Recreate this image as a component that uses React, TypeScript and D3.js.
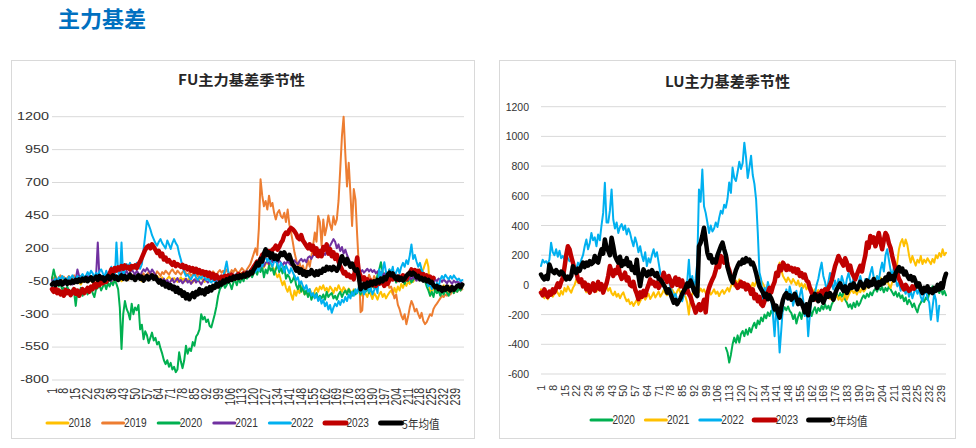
import React from 'react';
import * as d3 from 'd3';

// ---------------- FU data (index 1..) ----------------
const FU_X_TICKS = [1, 8, 15, 22, 29, 36, 43, 50, 57, 64, 71, 78, 85, 92, 99, 106, 113, 120, 127, 134, 141, 148, 155, 162, 169, 176, 183, 190, 197, 204, 211, 218, 225, 232, 239];
const FU_Y_TICKS = [1200, 950, 700, 450, 200, -50, -300, -550, -800];

const FU_2018 = [
  -40,-55,-30,-60,-45,-70,-50,-35,-60,-80,-55,-40,-65,-50,-30,-45,-60,-75,-50,-40,
  -55,-35,-20,-45,-60,-40,-25,-50,-65,-45,-30,-55,-40,-20,-35,-50,-60,-40,-25,-45,
  -30,-50,-40,-20,-10,-35,-25,-5,-20,-40,-30,-15,-35,-50,-30,-10,-25,-40,-20,-5,
  -15,-30,-10,-25,-40,-20,-35,-50,-30,-15,-30,-45,-25,-40,-55,-35,-20,-40,-30,-50,
  -40,-25,-45,-60,-40,-30,-50,-35,-20,-40,-55,-35,-25,-45,-30,-15,-35,-20,-40,-25,
  -10,-30,-20,-5,-25,-15,0,-20,-10,5,-15,0,15,-5,10,25,5,20,35,15,
  30,50,40,60,75,55,80,95,70,85,60,40,10,-20,5,-40,-80,-50,-100,-130,
  -90,-150,-190,-120,-160,-110,-140,-90,-120,-150,-130,-160,-110,-140,-170,-120,-100,-130,-90,-110,
  -80,-120,-100,-130,-90,-110,-140,-100,-120,-80,-110,-130,-95,-115,-140,-105,-125,-150,-110,-130,
  -140,-115,-135,-160,-125,-145,-170,-130,-150,-185,-140,-160,-190,-150,-130,-170,-145,-180,-155,-135,
  -120,-150,-100,-135,-90,-120,-70,-100,-60,-85,-50,-70,-30,-55,-20,-40,-10,-35,15,40,
  80,115,60,-160,-120,-100,-130,-110,-90,-125,-105,-80,-115,-130,-100,-85,-120,-105,-90,-110,
  -100,-85,-95,
];
const FU_2019 = [
  -20,-35,-10,-40,-25,-5,-30,-15,-45,-25,-10,-35,-20,-5,-30,-45,-20,-10,-35,-25,
  -15,-40,-25,-10,-30,-50,-35,-20,-5,-30,-15,-40,-25,-10,-35,-20,-5,-30,-45,-25,
  -10,-30,-20,-5,-25,-40,-20,0,-15,-30,-10,5,-20,-5,10,-15,-5,20,5,-10,
  15,-5,25,10,-10,20,5,30,15,0,25,40,20,5,30,15,0,20,35,10,
  0,15,-10,5,20,0,-15,10,-5,15,30,5,-10,15,0,25,10,-5,20,35,
  15,30,10,40,20,5,35,20,45,25,10,30,50,35,15,40,60,80,120,160,
  200,150,350,725,600,520,560,495,600,520,545,470,420,470,490,445,430,470,400,495,
  380,320,250,170,115,60,90,40,70,20,50,110,60,140,220,320,250,445,400,220,
  420,300,360,450,380,340,443,380,420,560,800,1050,1200,920,670,850,620,370,650,570,
  300,60,-285,-270,-60,-20,-45,0,-30,-60,-10,-40,-70,-30,0,-20,-50,-80,-60,-100,
  -90,-130,-180,-150,-230,-262,-310,-340,-300,-376,-320,-250,-200,-230,-280,-260,-300,-330,-290,-350,
  -376,-360,-330,-300,-313,-260,-237,-220,-200,-180,-160,-170,-150,-160,-135,-150,-125,-140,-115,-130,
  -105,-120,-110,
];
const FU_2020 = [
  -30,40,-20,-60,-90,-70,-110,-100,-130,-90,-120,-150,-110,-130,-237,-120,-140,-100,-160,-130,
  -110,-150,-120,-90,-140,-170,-110,-100,-80,-120,-90,-70,-110,-60,-90,-50,-80,-40,-70,-110,
  -250,-565,-300,-200,-260,-290,-340,-220,-300,-250,-270,-230,-415,-380,-490,-430,-460,-520,-480,-440,
  -500,-480,-530,-510,-560,-600,-650,-680,-650,-700,-670,-720,-700,-740,-720,-590,-660,-710,-650,-540,
  -600,-560,-580,-512,-540,-470,-450,-415,-300,-340,-320,-360,-340,-390,-400,-350,-300,-240,-160,-110,
  -90,-60,-100,-80,-50,-70,-110,-60,-40,-80,-30,-60,-20,-50,0,-30,-10,20,-20,10,
  30,0,50,20,60,-20,40,10,70,30,50,0,40,80,20,50,10,60,-30,0,
  -20,-60,-40,-10,-80,-110,-60,-130,-90,-150,-120,-170,-130,-190,-150,-170,-140,-190,-160,-180,
  -150,-190,-130,-170,-150,-140,-180,-160,-190,-150,-130,-170,-140,-120,-150,-110,-140,-160,-120,-150,
  -130,-110,-150,-120,-90,-130,-100,-140,-110,-80,-100,-60,0,40,95,20,-30,10,-20,40,
  -10,-40,-20,-60,-30,-50,-10,-40,-70,-30,-50,-20,-60,-40,-10,-30,20,40,10,-20,
  -50,-90,-120,-160,-130,-170,-110,-140,-120,-160,-130,-150,-110,-140,-160,-120,-100,-140,-110,-130,
  -100,-120,-90,
];
const FU_2021 = [
  -40,-60,-35,-70,-50,-30,-60,-80,-45,-65,-40,-55,-75,-50,-35,40,-10,-30,-20,-40,
  -25,-10,-35,-20,-40,-15,-10,245,-30,-10,-40,-25,-45,-15,-30,-50,-20,-35,-10,-25,
  0,20,-10,10,30,-5,15,40,20,0,30,10,-10,20,40,25,50,30,10,40,
  20,0,-20,-40,-30,-50,-30,-60,-40,-70,-50,-30,-60,-45,-25,-55,-40,-65,-50,-30,
  -60,-45,-70,-50,-35,-60,-40,-55,-75,-50,-30,-45,-60,-40,-20,-45,-30,-50,-35,-15,
  -40,-25,-10,-35,-20,-5,-30,-15,0,-20,-10,-25,0,-15,10,-5,15,30,10,25,
  40,55,35,60,80,65,90,100,80,110,95,120,100,85,110,90,70,95,80,105,
  85,70,95,110,90,80,105,120,100,115,95,130,140,120,145,160,135,150,170,150,
  165,150,175,200,220,245,270,250,200,230,180,210,160,190,150,120,90,70,50,40,
  30,40,20,35,15,30,45,25,40,20,35,10,25,5,20,-5,10,-10,5,-15,
  0,-10,-25,-5,-20,-35,-15,-30,-10,-25,-40,-20,-35,-15,-30,-45,-25,-10,-35,-20,
  -40,-30,-50,-25,-45,-60,-35,-50,-30,-40,-55,-35,-50,-65,-40,-55,-70,-45,-60,-50,
  -65,-55,-70,
];
const FU_2022 = [
  -60,-45,-30,-55,-20,-40,-10,-35,-25,-50,-15,-30,-5,-25,-40,-10,-30,-15,5,-20,
  -10,20,-5,30,10,-20,15,-10,25,40,10,-15,30,-5,20,60,10,-40,245,30,
  -30,245,-20,40,80,60,90,40,70,50,90,60,45,80,190,300,410,380,345,300,
  270,240,220,250,270,240,220,200,260,230,195,240,270,240,220,160,115,60,20,-10,
  0,-20,-35,-10,10,-25,-40,-15,-30,-5,-20,-40,-30,-50,-60,-40,-55,-35,-20,-45,
  -30,-10,40,100,20,-20,0,-30,-10,10,-20,5,-10,20,0,30,10,40,20,60,
  20,50,30,80,60,110,140,100,130,90,60,100,120,70,40,90,60,20,70,40,
  10,50,20,-10,-40,-20,-70,-50,-90,-110,-80,-130,-110,-160,-140,-180,-150,-200,-170,-220,
  -190,-240,-210,-265,-230,-290,-250,-220,-240,-200,-230,-190,-210,-170,-200,-150,-180,-130,-160,-110,
  -140,-90,-130,-100,-150,-120,-80,-130,-100,-150,-120,-80,-140,40,-10,30,95,20,-30,40,
  10,60,-30,20,50,10,60,90,60,110,80,145,230,120,150,100,60,90,40,10,
  -30,-60,-90,-70,-110,-80,-100,-60,-90,-40,-10,-30,0,-20,-35,-10,-30,-5,-25,-40,
  -30,-50,-40,
];
const FU_2023 = [
  -110,-130,-100,-140,-120,-150,-130,-160,-115,-140,-125,-155,-135,-110,-145,-120,-160,-130,-110,-140,
  -120,-100,-130,-90,-110,-70,-95,-60,-80,-50,-65,-35,-55,-20,10,40,20,50,30,55,
  40,65,45,70,50,60,40,65,55,70,50,80,100,130,160,190,210,220,200,230,
  210,190,165,180,140,160,115,130,100,110,90,75,95,65,80,70,60,75,50,65,
  40,55,30,50,20,45,15,35,10,25,0,20,-10,15,-20,5,-30,-5,-25,-35,
  -15,-30,-10,-25,-5,-20,0,-15,-30,-10,5,-20,-5,10,-10,15,0,20,40,60,
  80,100,90,120,150,140,165,150,180,165,190,200,220,190,210,240,260,300,320,310,
  340,355,345,330,310,280,270,300,260,240,220,200,230,190,220,160,200,140,180,140,
  210,190,230,160,195,140,170,120,150,100,65,40,10,20,-10,0,-20,-10,-35,60,
  130,20,-10,-35,-20,-50,-35,-60,-45,-80,-60,-85,-50,-70,-40,-60,-85,-50,-70,-40,
  -20,-35,-10,-25,-40,-15,-30,-5,-20,-35,0,15,40,20,35,5,30,10,-10,5,
  -20,-5,-35,-15,-40,-25,
];
const FU_AVG = [
  -75,-60,-80,-55,-70,-50,-75,-60,-45,-70,-55,-65,-45,-60,-40,-55,-35,-50,-30,-45,
  -25,-50,-35,-20,-45,-30,-15,-40,-10,-30,-20,-45,-25,-10,-35,-20,-5,-30,-15,-40,
  -25,-5,-30,-10,-35,-20,0,-25,-15,-40,-20,-5,-30,-15,-45,-25,-10,-35,-20,-5,
  -30,-15,-40,-60,-45,-75,-55,-90,-70,-100,-80,-110,-90,-130,-100,-140,-120,-160,-135,-180,
  -150,-187,-160,-140,-170,-130,-150,-110,-140,-120,-150,-105,-130,-95,-120,-85,-100,-70,-90,-60,
  -75,-45,-60,-35,-50,-25,-40,-15,-30,-10,-25,-5,-20,0,-15,10,-5,20,10,40,
  60,90,70,120,100,160,193,150,170,130,160,120,145,115,140,165,150,170,140,120,
  150,110,80,60,30,50,15,40,0,25,-10,20,5,35,10,-5,25,0,30,15,
  45,30,60,40,55,35,60,45,30,55,100,140,110,80,120,90,60,85,50,30,
  40,-20,-110,-90,-70,-100,-60,-85,-55,-75,-50,-70,-40,-60,-30,-50,-20,-35,0,15,
  -5,10,-20,-35,-15,-40,-25,-45,-30,-10,5,15,0,15,5,-20,-10,-35,-25,-45,
  -30,-50,-40,-60,-55,-80,-95,-85,-110,-95,-123,-100,-115,-90,-110,-120,-95,-115,-100,-85,
  -80,-95,-75,
];

// ---------------- LU data ----------------
const LU_X_TICKS = [1, 8, 15, 22, 29, 36, 43, 50, 57, 64, 71, 78, 85, 92, 99, 106, 113, 120, 127, 134, 141, 148, 155, 162, 169, 176, 183, 190, 197, 204, 211, 218, 225, 232, 239];
const LU_Y_TICKS = [1200, 1000, 800, 600, 400, 200, 0, -200, -400, -600];

const LU_2020_START = 111;
const LU_2020 = [
  -423,-455,-523,-470,-400,-355,-390,-340,-388,-330,
  -310,-345,-300,-335,-290,-320,-280,-255,-290,-240,-265,-220,-245,-200,-225,-185,-210,-175,-195,-160,
  -185,-150,-200,-165,-175,-150,-170,-145,-175,-190,-230,-200,-260,-215,-185,-230,-170,-200,-150,-185,
  -160,-210,-175,-150,-190,-155,-175,-140,-165,-130,-160,-140,-170,-130,-110,-90,-60,-90,-55,-80,
  -50,-100,-120,-150,-130,-160,-120,-150,-110,-140,-120,-90,-70,-90,-60,-80,-50,-70,-40,-25,
  -45,-10,-35,-15,-50,-20,-40,-10,-30,-50,-70,-45,-80,-55,-90,-70,-110,-85,-130,-100,
  -120,-150,-125,-160,-185,-140,-120,-95,-115,-85,-100,-60,-30,-10,-40,-15,-30,-55,-20,-65,
  -40,-70,
];
const LU_2021 = [
  -30,-60,-90,-52,-97,-70,-45,-80,-60,-30,-55,-75,-40,-65,-20,-45,-10,-35,-52,-20,
  0,37,15,30,10,20,-20,-50,-35,-60,-40,-15,-30,-45,-20,-5,-35,-50,-25,-10,
  -40,-20,-55,-70,-45,-80,-60,-90,-65,-50,-85,-110,-97,-130,-115,-142,-120,-100,-135,-110,
  -90,-70,-100,-80,-60,-95,-75,-50,-85,-65,-45,-80,-60,-35,-55,-70,-40,-60,-30,-50,
  -70,-45,-25,-55,-40,-65,-80,-120,-200,-90,-60,-40,-15,-35,-50,-25,-45,-30,-55,-70,
  -40,-65,-50,-30,-60,-45,-75,-50,-35,-60,-40,-20,-45,-10,15,-10,30,10,37,0,
  20,-15,10,-30,0,-20,15,-10,20,40,60,30,10,-15,-30,0,-20,-40,-10,20,
  60,104,150,100,60,40,20,50,30,10,40,20,0,30,-10,10,-20,5,-30,-10,
  -40,-20,-50,-30,-55,-35,-65,-45,-75,-60,-85,-65,-95,-80,-110,-90,-70,-100,-80,-110,
  -90,-60,-100,-70,-50,-30,-55,-40,-65,-30,-50,-20,-45,-30,0,-20,15,30,10,40,
  60,30,50,20,45,10,30,0,-20,20,20,60,150,240,285,308,260,306,270,200,
  150,195,160,130,170,150,195,140,170,150,180,160,140,175,150,200,180,215,190,240,
  200,216,
];
const LU_2022 = [
  127,170,150,160,140,170,284,220,200,240,190,230,180,195,170,200,180,160,170,140,
  120,105,150,130,170,200,260,306,240,280,350,300,320,260,340,300,400,485,688,420,
  420,500,643,440,380,420,350,390,410,370,400,340,380,350,300,260,320,280,220,260,
  200,160,220,127,180,150,200,240,190,220,150,80,60,35,50,20,40,-20,-50,-80,
  -60,-100,-120,-80,-110,-70,-40,20,170,0,60,-20,40,150,643,560,777,530,485,420,
  350,400,360,380,420,390,450,500,480,540,520,580,690,620,790,720,700,760,830,780,
  820,958,860,720,790,870,740,680,575,353,83,37,-140,-20,-60,20,-30,-100,-200,-345,
  -150,-250,-455,-300,-140,-80,-30,-100,-10,-60,-140,-90,-40,-120,-70,-20,-100,-210,-150,-345,
  -200,-80,-110,-60,0,40,100,150,60,20,-40,20,80,10,-30,30,-20,40,-10,60,
  20,-30,40,80,30,-10,50,0,-40,20,60,10,-20,40,-10,30,80,120,50,20,
  60,30,100,150,90,200,240,170,100,60,120,40,-10,20,-40,10,-30,-60,-20,-80,
  -40,-90,-50,-20,-60,-30,-80,-110,-60,-30,-90,-120,-235,-150,-60,-100,-245,-140,
];
const LU_2023 = [
  -52,-70,-30,-60,-80,-45,-65,-30,-50,-20,10,-15,20,50,120,200,260,240,190,150,
  100,84,40,20,37,-10,15,-30,0,-52,-20,10,-40,-15,20,-30,5,-52,-20,10,
  60,127,90,60,100,80,127,70,40,60,82,30,50,0,-8,20,-30,-60,-97,-50,
  -80,-40,-70,-30,0,37,10,20,-8,15,-20,0,40,82,50,20,60,30,-8,20,
  50,0,40,-10,30,-20,-50,-30,-60,-80,-120,-150,-187,-160,-130,-170,-140,-100,-185,-60,
  -20,10,37,60,100,150,120,195,170,150,195,130,100,60,37,15,0,-20,-8,20,
  -10,10,-30,0,-20,-60,-30,-90,-65,-110,-80,-130,-142,-110,-80,-50,-20,-50,-8,20,
  82,60,128,100,150,130,100,128,104,115,90,110,80,104,60,80,50,70,30,20,
  -20,-51,-70,-98,-80,-60,-75,-40,-60,-30,-50,-20,0,30,80,128,160,195,170,150,
  130,180,150,100,130,82,60,37,70,100,128,90,150,200,285,250,330,285,320,260,
  300,350,290,240,300,350,330,280,250,195,150,104,80,40,20,-10,-30,0,-20,-40,
  -30,-10,-25,-5,
];
const LU_AVG = [
  70,50,37,60,40,138,105,90,80,100,85,70,90,80,60,37,55,40,60,126,
  100,80,110,95,126,150,120,150,130,160,140,150,195,160,150,200,240,210,306,250,
  230,200,318,260,195,170,150,190,127,160,140,180,127,150,100,120,80,170,60,-8,
  60,105,80,60,90,70,100,75,60,80,40,37,20,0,-20,-52,-30,-60,-90,-120,
  -100,-130,-110,-90,-60,-40,-20,10,-10,30,0,-40,-60,-75,260,284,330,385,300,216,
  180,200,150,170,150,200,230,260,285,240,200,120,80,40,15,60,100,127,150,140,
  170,150,180,160,170,140,150,120,80,30,-10,-30,-50,-80,-60,-97,-70,-90,-120,-165,
  -140,-187,-220,-150,-100,-70,-55,-90,-70,-100,-80,-60,-90,-130,-100,-120,-150,-185,-130,-205,
  -120,-80,-100,-60,-80,-110,-70,-90,-120,-90,-60,-80,-55,-75,-100,-60,-30,-10,10,-20,
  -40,-10,-55,-30,0,-20,10,-10,-30,-8,20,0,-20,10,30,-10,20,0,40,10,
  -20,20,0,30,10,50,30,75,40,60,30,80,100,120,90,110,70,90,60,40,
  60,30,50,20,-10,10,-30,-55,-20,-40,-10,-50,-30,-55,-20,-40,0,-30,10,-20,
  40,75,
];

// ---------------- styling ----------------
const NUM = '"Liberation Sans", Arial, sans-serif';
const CJK = '"Noto Sans CJK SC", "Noto Sans", sans-serif';
const GRID = '#d9d9d9';
const TXT = '#333333';

type S = { name: string; color: string; width: number; start: number; values: number[] };

const FU_SERIES: S[] = [
  { name: '2018', color: '#FFC000', width: 2, start: 1, values: FU_2018 },
  { name: '2019', color: '#ED7D31', width: 2, start: 1, values: FU_2019 },
  { name: '2020', color: '#00B050', width: 2, start: 1, values: FU_2020 },
  { name: '2021', color: '#7030A0', width: 2, start: 1, values: FU_2021 },
  { name: '2022', color: '#00B0F0', width: 2, start: 1, values: FU_2022 },
  { name: '2023', color: '#C00000', width: 4.5, start: 1, values: FU_2023 },
  { name: '5年均值', color: '#000000', width: 4.5, start: 1, values: FU_AVG },
];
const LU_SERIES: S[] = [
  { name: '2020', color: '#00B050', width: 2, start: LU_2020_START, values: LU_2020 },
  { name: '2021', color: '#FFC000', width: 2, start: 1, values: LU_2021 },
  { name: '2022', color: '#00B0F0', width: 2, start: 1, values: LU_2022 },
  { name: '2023', color: '#C00000', width: 4.5, start: 1, values: LU_2023 },
  { name: '3年均值', color: '#000000', width: 4.5, start: 1, values: LU_AVG },
];

type PanelProps = {
  box: [number, number, number, number];
  title: string; titleX: number; titleY: number; titleLen: number; titleSize: number;
  xDomain: [number, number]; xRange: [number, number];
  yDomain: [number, number]; yRange: [number, number];
  yTicks: number[]; xTicks: number[];
  labelRight: number; stretch: number; xLabelTop: number;
  series: S[];
  legendX: number; legendStep: number; legendY: number;
};

function Panel(p: PanelProps) {
  const x = d3.scaleLinear().domain(p.xDomain).range(p.xRange);
  const y = d3.scaleLinear().domain(p.yDomain).range(p.yRange);
  const line = d3.line<[number, number]>().x((d) => x(d[0])).y((d) => y(d[1]));
  const [bx, by, bw, bh] = p.box;
  return (
    <g>
      <rect x={bx} y={by} width={bw} height={bh} fill="#fff" stroke={GRID} strokeWidth={1} />
      <text x={p.titleX} y={p.titleY} textAnchor="middle" fontFamily={CJK} fontWeight={700}
        fontSize={p.titleSize} fill="#262626" textLength={p.titleLen} lengthAdjust="spacingAndGlyphs">{p.title}</text>
      {p.yTicks.map((t) => (
        <g key={'g' + t}>
          <line x1={p.xRange[0]} x2={p.xRange[1]} y1={y(t)} y2={y(t)} stroke={GRID} strokeWidth={1} />
          <text transform={`translate(${p.labelRight},${y(t)}) scale(${p.stretch},1)`} textAnchor="end"
            dominantBaseline="central" fontFamily={NUM} fontSize={10.5} fill={TXT}>{t}</text>
        </g>
      ))}
      {p.xTicks.map((t) => (
        <text key={'x' + t} transform={`translate(${x(t)},${p.xLabelTop}) scale(${p.stretch},1) rotate(-90)`}
          textAnchor="end" dominantBaseline="central" fontFamily={NUM} fontSize={10.5} fill={TXT}>{t}</text>
      ))}
      {p.series.map((s) => {
        const pts: [number, number][] = s.values.map((v, i) => [s.start + i, v]);
        return <path key={s.name} d={line(pts) || ''} fill="none" stroke={s.color} strokeWidth={s.width}
          strokeLinejoin="round" strokeLinecap="round" />;
      })}
      {p.series.map((s, i) => {
        const sx = p.legendX + i * p.legendStep;
        const isYear = /^\d+$/.test(s.name);
        return (
          <g key={'l' + s.name}>
            <line x1={sx} x2={sx + 21} y1={p.legendY} y2={p.legendY} stroke={s.color}
              strokeWidth={s.width > 3 ? 5 : 3} strokeLinecap="round" />
            <text x={sx + 21.5} y={p.legendY} dominantBaseline="central" fontFamily={isYear ? NUM : CJK}
              fontSize={12} fill={TXT} textLength={isYear ? 22.5 : 37.5} lengthAdjust="spacingAndGlyphs">{s.name}</text>
          </g>
        );
      })}
    </g>
  );
}

export default function App() {
  return (
    <svg width={976} height={448} style={{ position: 'absolute', left: 0, top: 0, background: '#fff' }}>
      <rect x={0} y={0} width={976} height={448} fill="#fff" />
      <text x={58} y={27} fontFamily={CJK} fontWeight={700} fontSize={22} fill="#0070C0">主力基差</text>
      <Panel
        box={[11.5, 60.5, 463, 378]}
        title="FU主力基差季节性" titleX={241.5} titleY={84.5} titleLen={127} titleSize={14}
        xDomain={[1, 244]} xRange={[52, 464]}
        yDomain={[-800, 1200]} yRange={[380, 116.7]}
        yTicks={FU_Y_TICKS} xTicks={FU_X_TICKS}
        labelRight={49} stretch={1.37} xLabelTop={388}
        series={FU_SERIES}
        legendX={47} legendStep={55.6} legendY={423}
      />
      <Panel
        box={[499.5, 60.5, 456, 378]}
        title="LU主力基差季节性" titleX={727.5} titleY={87} titleLen={125} titleSize={15}
        xDomain={[1, 242]} xRange={[541, 946]}
        yDomain={[-600, 1200]} yRange={[374, 106.7]}
        yTicks={LU_Y_TICKS} xTicks={LU_X_TICKS}
        labelRight={529} stretch={1} xLabelTop={385}
        series={LU_SERIES}
        legendX={591} legendStep={54.4} legendY={420}
      />
    </svg>
  );
}
